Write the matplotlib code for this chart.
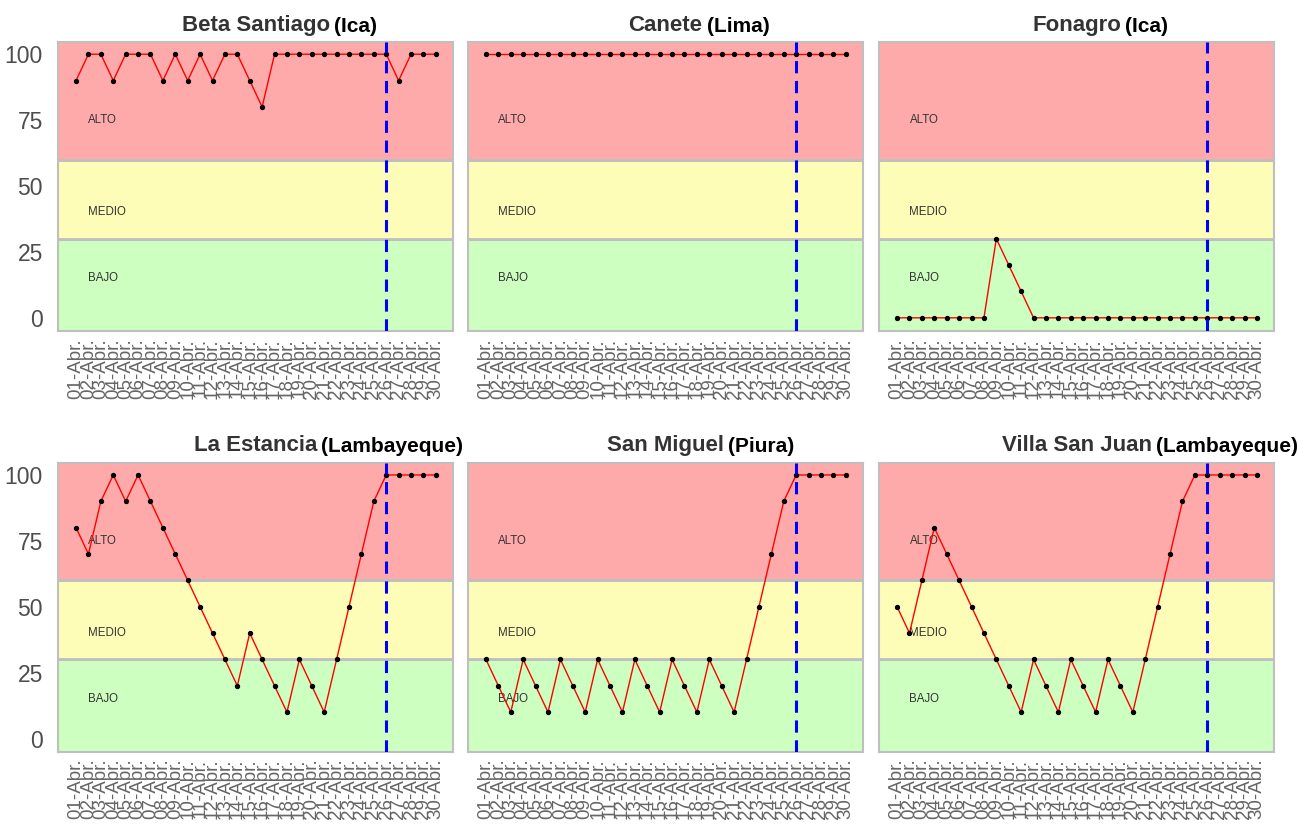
import numpy as np
import matplotlib
matplotlib.use('Agg')
import matplotlib.pyplot as plt
from matplotlib.patches import Rectangle

plt.rcParams['font.family'] = ['Liberation Sans', 'DejaVu Sans']

days = list(range(1, 31))
day_labels = ['%02d-Abr.' % d for d in days]
cutoff_day = 26

names = ['Beta Santiago', 'Canete', 'Fonagro', 'La Estancia', 'San Miguel', 'Villa San Juan']
regions = ['(Ica)', '(Lima)', '(Ica)', '(Lambayeque)', '(Piura)', '(Lambayeque)']

beta_santiago = [90, 100, 100, 90, 100, 100, 100, 90, 100, 90, 100, 90, 100, 100, 90,
                 80, 100, 100, 100, 100, 100, 100, 100, 100, 100, 100, 90, 100, 100, 100]
canete = [100] * 30
fonagro = [0, 0, 0, 0, 0, 0, 0, 0, 30, 20, 10, 0, 0, 0, 0,
           0, 0, 0, 0, 0, 0, 0, 0, 0, 0, 0, 0, 0, 0, 0]
la_estancia = [80, 70, 90, 100, 90, 100, 90, 80, 70, 60, 50, 40, 30, 20, 40,
               30, 20, 10, 30, 20, 10, 30, 50, 70, 90, 100, 100, 100, 100, 100]
san_miguel = [30, 20, 10, 30, 20, 10, 30, 20, 10, 30, 20, 10, 30, 20, 10,
              30, 20, 10, 30, 20, 10, 30, 50, 70, 90, 100, 100, 100, 100, 100]
villa_san_juan = [50, 40, 60, 80, 70, 60, 50, 40, 30, 20, 10, 30, 20, 10, 30,
                  20, 10, 30, 20, 10, 30, 50, 70, 90, 100, 100, 100, 100, 100, 100]
series = [beta_santiago, canete, fonagro, la_estancia, san_miguel, villa_san_juan]

# risk bands: (low, high, colour, label, label y)
bands = [(-10, 30, '#CCFFC0', 'BAJO', 15),
         (30, 60, '#FDFDB8', 'MEDIO', 40),
         (60, 110, '#FFAAAA', 'ALTO', 75)]

fig = plt.figure(figsize=(13.16, 8.25), dpi=100)

lefts = [0.0441, 0.3556, 0.668]
bottoms = [0.5988, 0.0888]
w, h = 0.3003, 0.3505

for i in range(6):
    r, c = divmod(i, 3)
    ax = fig.add_axes([lefts[c], bottoms[r], w, h])
    for lo, hi, col, lab, ly in bands:
        ax.add_patch(Rectangle((-5, lo), 50, hi - lo, facecolor=col,
                               edgecolor='#BFBFBF', linewidth=2, zorder=0))
        ax.text(2, ly, lab, fontsize=8.3, color='#333333', va='center', ha='left', zorder=1)
    ax.plot(days, series[i], color='red', linewidth=1, zorder=3)
    ax.scatter(days, series[i], s=8, color='black', zorder=4)
    ax.axvline(cutoff_day, color='blue', linestyle=(0, (4, 2.5)), linewidth=2.2, zorder=5)

    ax.set_xlim(-0.45, 31.4)
    ax.set_ylim(-5, 104.7)
    ax.set_xticks(days)
    ax.set_xticklabels(day_labels, rotation=90, fontsize=13.5, color='#666666')
    ax.set_yticks([0, 25, 50, 75, 100])
    if c == 0:
        ax.set_yticklabels(['0', '25', '50', '75', '100'], fontsize=16.5, color='#4D4D4D')
    else:
        ax.set_yticklabels([])
    ax.tick_params(axis='x', length=0, pad=5)
    ax.tick_params(axis='y', length=0, pad=11)
    for sp in ax.spines.values():
        sp.set_color('#BFBFBF')
        sp.set_linewidth(1.5)

    t = ax.set_title(names[i], fontsize=16, fontweight='bold', color='#333333', pad=8)
    ax.annotate(regions[i], xy=(1, 0), xycoords=t, xytext=(3, 0), textcoords='offset points',
                ha='left', va='bottom', fontsize=15, fontweight='bold', color='black')

fig.savefig('out.png', dpi=100)
